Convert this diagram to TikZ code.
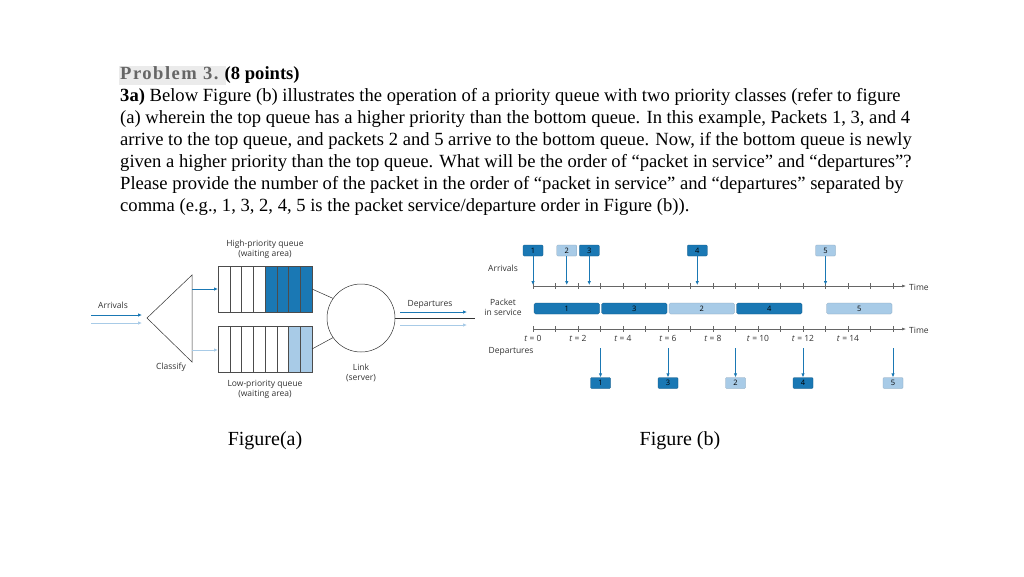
\documentclass[tikz,border=0pt]{standalone}
\usepackage{fontspec}
\setmainfont{Liberation Serif}
\newfontfamily\osf{Open Sans}
\usetikzlibrary{arrows.meta}
\begin{document}
\begin{tikzpicture}[x=1pt,y=-1pt,
 dk/.style={fill=dkb,draw=dkb!70!black,line width=0.3pt},
 lt/.style={fill=ltb,draw=ltb!80!black,line width=0.3pt},
 lab/.style={font=\osf\fontsize{8.5}{10}\selectfont,text=black!80,inner sep=0,align=center},
 tl/.style={font=\fontsize{18.6}{22}\selectfont,anchor=west,inner sep=0},
 arr/.style={-{Latex[length=4pt,width=3.5pt]},line width=0.8pt},
 pk/.style={minimum width=20pt,minimum height=11pt,inner sep=0,font=\osf\fontsize{7.5}{8}\selectfont,rounded corners=1pt}]
\definecolor{dkb}{HTML}{1A78B4}
\definecolor{ltb}{HTML}{A8CBE7}
\useasboundingbox (0,0) rectangle (1024,576);
\fill[white] (0,0) rectangle (1024,576);
% text
\fill[black!8] (119,66) rectangle (226,85);
\node[tl] (t1) at (120,75) {{\color{black!60}\bfseries\addfontfeature{LetterSpace=8}Problem 3.} \textbf{(8 points)}};
\node[tl] (t2) at (120,97) {\textbf{3a)} Below Figure (b) illustrates the operation of a priority queue with two priority classes (refer to figure};
\node[tl] (t3) at (120,119) {(a) wherein the top queue has a higher priority than the bottom queue. In this example, Packets 1, 3, and 4};
\node[tl] (t4) at (120,141) {arrive to the top queue, and packets 2 and 5 arrive to the bottom queue. Now, if the bottom queue is newly};
\node[tl] (t5) at (120,163) {given a higher priority than the top queue. What will be the order of “packet in service” and “departures”?};
\node[tl] (t6) at (120,185) {Please provide the number of the packet in the order of “packet in service” and “departures” separated by};
\node[tl] (t7) at (120,207) {comma (e.g., 1, 3, 2, 4, 5 is the packet service/departure order in Figure (b)).};
\node[font=\fontsize{20}{22}\selectfont] (fa) at (265,441) {Figure(a)};
\node[font=\fontsize{20}{22}\selectfont] (fb) at (680,441) {Figure (b)};
% Figure (a)
\node[lab] (hq) at (265,249) {High-priority queue\\(waiting area)};
\node[lab] (lq) at (265,389) {Low-priority queue\\(waiting area)};
\node[lab] (cl) at (171,367) {Classify};
\node[lab] (lk) at (361,373) {Link\\(server)};
\node[lab] (ar) at (113,305) {Arrivals};
\node[lab] (dp) at (430,304) {Departures};
\foreach \i in {0,...,7}{
 \ifnum\i>3 \filldraw[fill=dkb,draw=black!70,line width=0.4pt] (218+\i*11.75,266) rectangle ++(11.75,46);
 \else \draw[black!70,line width=0.4pt] (218+\i*11.75,266) rectangle ++(11.75,46);\fi
 \ifnum\i>5 \filldraw[fill=ltb,draw=black!70,line width=0.4pt] (218+\i*11.75,326) rectangle ++(11.75,46);
 \else \draw[black!70,line width=0.4pt] (218+\i*11.75,326) rectangle ++(11.75,46);\fi}
\draw[black!80,line width=0.5pt] (147,318) -- (192,275) -- (192,362) -- cycle;
\node[circle,draw=black!80,line width=0.5pt,minimum size=68pt,inner sep=0] (srv) at (361,318) {};
\coordinate (qa) at (312,289); \coordinate (qb) at (312,349);
\draw[black!80,line width=0.5pt] (qa) -- (srv.145) (qb) -- (srv.215);
\coordinate (a1) at (91,315); \coordinate (a2) at (142,315);
\coordinate (b1) at (91,323); \coordinate (b2) at (142,323);
\draw[arr,dkb] (a1) -- (a2); \draw[arr,ltb] (b1) -- (b2);
\coordinate (c1) at (192,289); \coordinate (c2) at (218,289);
\coordinate (d1) at (192,350); \coordinate (d2) at (218,350);
\draw[arr,dkb] (c1) -- (c2); \draw[arr,ltb] (d1) -- (d2);
\coordinate (e1) at (400,312); \coordinate (e2) at (467,312);
\coordinate (f1) at (400,325); \coordinate (f2) at (467,325);
\coordinate (g2) at (475,318);
\draw[black!80,line width=0.5pt] (srv.east) -- (g2);
\draw[arr,dkb] (e1) -- (e2); \draw[arr,ltb] (f1) -- (f2);
% Figure (b)
\node[lab] (la) at (503,268) {Arrivals};
\node[lab] (lp) at (503,307) {Packet\\in service};
\node[lab] (ld) at (511,351) {Departures};
\coordinate (x1s) at (533,286); \coordinate (x1e) at (906,286);
\coordinate (x2s) at (533,329); \coordinate (x2e) at (906,329);
\draw[black!60,line width=0.6pt,-{Latex[length=4pt]}] (x1s) -- (x1e);
\draw[black!60,line width=0.6pt,-{Latex[length=4pt]}] (x2s) -- (x2e);
\node[lab,anchor=west] (tm1) at (909,287) {Time};
\node[lab,anchor=west] (tm2) at (909,330) {Time};
\foreach \k in {0,...,16}{
 \draw[black!60,line width=0.5pt] (533+\k*22.5,283) -- ++(0,6);
 \draw[black!60,line width=0.5pt] (533+\k*22.5,326) -- ++(0,6);}
\foreach \k in {0,2,...,14}{\node[lab] at (533+\k*22.5,338) {\textit{t} = \k};}
% service bars
\foreach \a/\b/\n/\s in {0/3/1/dk,3/6/3/dk,6/9/2/lt,9/12/4/dk,13/16/5/lt}{
 \draw[\s,rounded corners=1.5pt] (534+\a*22.5,303) rectangle (532+\b*22.5,314);
 \node[font=\osf\fontsize{7.5}{8}\selectfont] at (533+\a*11.25+\b*11.25,308.5) {\n};}
% arrivals
\foreach \t/\n/\s in {0/1/dk,1.5/2/lt,2.5/3/dk,7.3/4/dk,13/5/lt}{
 \node[pk,\s] (ap\n) at (533+\t*22.5,250.5) {\n};
 \coordinate (at\n) at (533+\t*22.5,285);
 \draw[arr,dkb] (ap\n) -- (at\n);}
% departures
\foreach \t/\n/\s in {3/1/dk,6/3/dk,9/2/lt,12/4/dk,16/5/lt}{
 \node[pk,\s] (dp\n) at (533+\t*22.5,383) {\n};
 \coordinate (ds\n) at (533+\t*22.5,348);
 \draw[arr,dkb] (ds\n) -- (dp\n);}
\end{tikzpicture}
\end{document}
